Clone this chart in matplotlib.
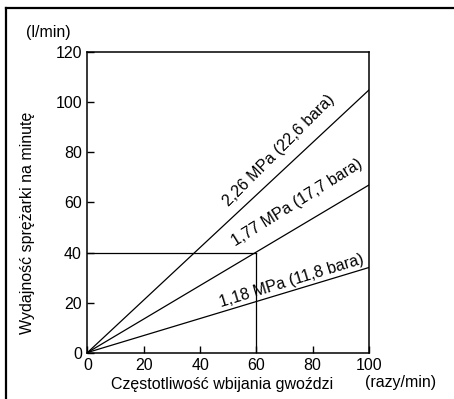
import matplotlib.pyplot as plt
from matplotlib.lines import Line2D

plt.rcParams['font.family'] = ['Liberation Sans', 'DejaVu Sans']

# data
x_end = [0, 100]
labels = ['2,26 MPa (22,6 bara)', '1,77 MPa (17,7 bara)', '1,18 MPa (11,8 bara)']
y_at_100 = [105, 67, 34]
label_x = [68, 74.5, 72.5]
label_y = [81, 60, 28.5]
label_rot = [45, 32, 17]
ref_x = 60
ref_y = 40
xticks = [0, 20, 40, 60, 80, 100]
yticks = [0, 20, 40, 60, 80, 100, 120]

fs = 11.5

fig = plt.figure(figsize=(4.54, 3.99), dpi=100)
ax = fig.add_axes([0.1927, 0.1165, 0.620, 0.752])

for yv in y_at_100:
    ax.plot(x_end, [0, yv], color='black', lw=0.9)

# reference lines at 60 razy/min
ax.plot([0, ref_x], [ref_y, ref_y], color='black', lw=0.9)
ax.plot([ref_x, ref_x], [0, ref_y], color='black', lw=0.9)

ax.set_xlim(0, 100)
ax.set_ylim(0, 120)

for lab, lx, ly, rot in zip(labels, label_x, label_y, label_rot):
    ax.text(lx, ly, lab, rotation=rot, ha='center', va='center',
            fontsize=fs, rotation_mode='anchor')

ax.set_xticks(xticks)
ax.set_yticks(yticks)
ax.tick_params(direction='in', length=5, width=1, labelsize=fs, pad=4)
for s in ax.spines.values():
    s.set_linewidth(1.1)

fig.text(222 / 454, 1 - 384 / 399, 'Częstotliwość wbijania gwoździ',
         ha='center', va='center', fontsize=fs)
fig.text(401 / 454, 1 - 383 / 399, '(razy/min)', ha='center', va='center', fontsize=fs)
fig.text(28 / 454, 1 - 223 / 399, 'Wydajność sprężarki na minutę',
         ha='center', va='center', rotation=90, fontsize=fs)
fig.text(48 / 454, 1 - 33 / 399, '(l/min)', ha='center', va='center', fontsize=fs)

# scanned frame: top and left edges only
fig.add_artist(Line2D([6 / 454, 1], [1 - 8 / 399, 1 - 8 / 399], color='black', lw=1.6))
fig.add_artist(Line2D([6 / 454, 6 / 454], [0, 1 - 8 / 399], color='black', lw=1.6))

fig.savefig('out.png', dpi=100)
